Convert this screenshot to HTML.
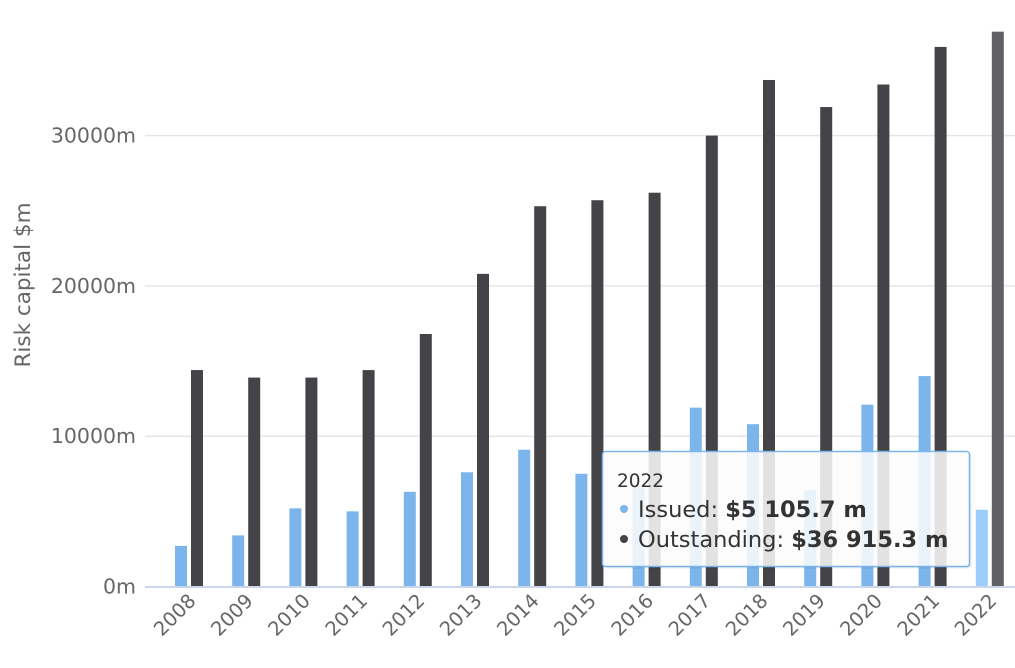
<!DOCTYPE html>
<html><head><meta charset="utf-8"><style>
html,body{margin:0;padding:0;background:#fff;}
svg{display:block;font-family:"DejaVu Sans","Liberation Sans",sans-serif;}
</style></head><body>
<svg id="chart" width="1015" height="668" viewBox="0 0 1015 668">
<rect width="1015" height="668" fill="#fff"/>
<g id="grid"></g>
<g id="yaxis"></g>
<text x="30" y="285" transform="rotate(-90 30 285)" text-anchor="middle" font-size="21.5" fill="#666">Risk capital $m</text>
<g id="bars"></g>
<line x1="145" y1="587" x2="1015" y2="587" stroke="#ccd6eb" stroke-width="2"/>
<g id="xaxis"></g>
<g>
<rect x="604.5" y="453.5" width="367" height="115" rx="3" fill="rgba(0,0,0,0.08)"/>
<rect x="602.5" y="451.5" width="367" height="115" rx="3" fill="rgba(255,255,255,0.85)" stroke="#7cb5ec" stroke-width="1.5"/>
<text x="617" y="487" font-size="18.5" fill="#333">2022</text>
<circle cx="624" cy="509" r="4" fill="#7cb5ec"/>
<text x="638" y="517" font-size="22.5" fill="#333">Issued: <tspan font-weight="bold">$5 105.7 m</tspan></text>
<circle cx="624" cy="539" r="4" fill="#434348"/>
<text x="638" y="547" font-size="22.5" fill="#333">Outstanding: <tspan font-weight="bold">$36 915.3 m</tspan></text>
</g>
</svg>
<script>
const categories = ["2008","2009","2010","2011","2012","2013","2014","2015","2016","2017","2018","2019","2020","2021","2022"];
const issued = [2700,3400,5200,5000,6300,7600,9100,7500,6600,11900,10800,6400,12100,14000,5105.7];
const outstanding = [14400,13900,13900,14400,16800,20800,25300,25700,26200,30000,33700,31900,33400,35900,36915.3];
const yTicks = [0,10000,20000,30000];
const yTickLabels = ["0m","10000m","20000m","30000m"];
const highlightIndex = 14;

const NS = "http://www.w3.org/2000/svg";
const y0 = 586.5, pxPer = 150.3 / 10000;
const left = 160.4, catW = 57.2;
function yScale(v){ return y0 - v * pxPer; }
function xCenter(i){ return left + catW * (i + 0.5); }
function mk(tag, attrs, parent){ const e = document.createElementNS(NS, tag); for (const k in attrs) e.setAttribute(k, attrs[k]); parent.appendChild(e); return e; }

const grid = document.getElementById('grid'), yaxis = document.getElementById('yaxis');
yTicks.forEach((t, i) => {
  if (t > 0) {
    const g = mk('line', {x1:145, x2:1015, y1:yScale(t), y2:yScale(t), stroke:'#e6e6e6', 'stroke-width':1.5}, grid);
    
    
  }
  const tx = mk('text', {x:136, y:yScale(t) + 7, 'text-anchor':'end', 'font-size':20.5, fill:'#666'}, yaxis);
  tx.textContent = yTickLabels[i];
  
  
});

const bars = document.getElementById('bars'), xaxis = document.getElementById('xaxis');
categories.forEach((c, i) => {
  const cx = xCenter(i);
  const hi = i === highlightIndex;
  const b1 = mk('rect', {x:cx - 14, y:yScale(issued[i]), width:12, height:y0 - yScale(issued[i]), fill: hi ? '#9ccdf9' : '#7cb5ec'}, bars);
  
  
  const b2 = mk('rect', {x:cx + 2, y:yScale(outstanding[i]), width:12, height:y0 - yScale(outstanding[i]), fill: hi ? '#616165' : '#434348'}, bars);
  
  
  const lx = cx + 8, ly = 602;
  const t = mk('text', {x:lx, y:ly, 'text-anchor':'end', 'font-size':19.5, fill:'#666', transform:'rotate(-45 ' + lx + ' ' + ly + ')'}, xaxis);
  t.textContent = c;
  
  
});
</script>
</body></html>
